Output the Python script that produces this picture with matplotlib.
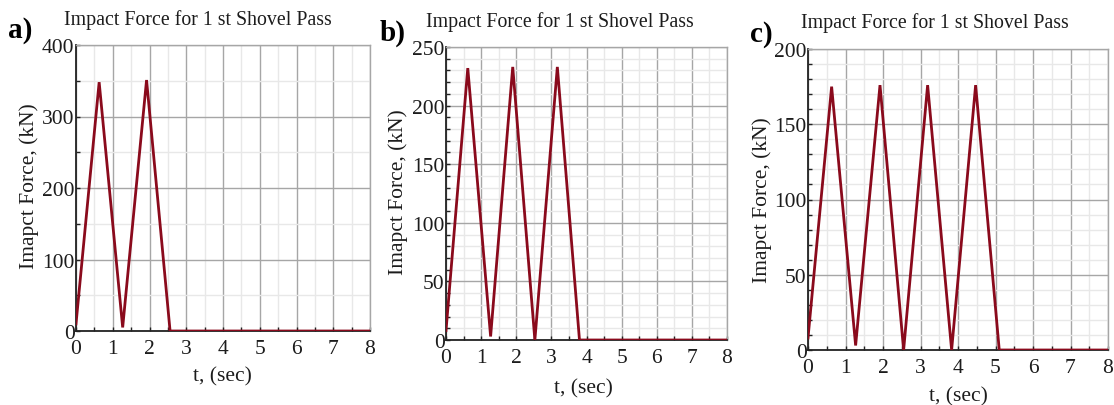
"""Impact force for 1st shovel pass - three panels (a, b, c)."""

import matplotlib
matplotlib.use("Agg")
import matplotlib.pyplot as plt
from matplotlib.ticker import MultipleLocator

# panel a: two passes
t_a = [0.0, 0.63, 1.27, 1.92, 2.56, 8.0]
f_a = [10, 348, 5, 351, 0, 0]

# panel b: three passes
t_b = [0.0, 0.62, 1.27, 1.90, 2.53, 3.17, 3.80, 8.0]
f_b = [8, 232, 3, 233, 0, 233, 0, 0]

# panel c: four passes
t_c = [0.0, 0.63, 1.27, 1.92, 2.55, 3.19, 3.83, 4.47, 5.10, 8.0]
f_c = [8, 175, 3, 176, 0, 176, 0, 176, 0, 0]

y_max = [400, 250, 200]
y_major = [100, 50, 50]
y_minor = [50, 10, 10]
tags = ["a)", "b)", "c)"]

TITLE = "Impact Force for 1 st Shovel Pass"
YLABEL = "Imapct Force, (kN)"
XLABEL = "t, (sec)"

W, H = 1114, 406
LINE = "#8a0a1c"
TXT = "#1c1c1c"

plt.rcParams["font.family"] = ["Liberation Serif", "DejaVu Serif"]

fig = plt.figure(figsize=(W / 100, H / 100), dpi=100)

# pixel boxes: left, top, right, bottom of each plot area
boxes = [(76, 46, 370, 332), (446, 48, 727, 341), (808, 50, 1108, 351)]
title_xy = [(198, 20), (560, 22), (935, 23)]
xlabel_xy = [(222, 377), (583, 389), (958, 397)]
ylabel_xy = [(29, 186), (398, 192), (762, 200)]
tag_xy = [(8, 30), (380, 33), (750, 35)]

series = [(t_a, f_a), (t_b, f_b), (t_c, f_c)]


def px(x, y):
    return x / W, 1 - y / H


for i, (t, f) in enumerate(series):
    l, top, r, b = boxes[i]
    ax = fig.add_axes([l / W, 1 - b / H, (r - l) / W, (b - top) / H])
    ax.plot(t, f, color=LINE, linewidth=2.0, zorder=3, solid_joinstyle="miter")

    ax.set_xlim(0, 8)
    ax.set_ylim(0, y_max[i])
    ax.xaxis.set_major_locator(MultipleLocator(1))
    ax.xaxis.set_minor_locator(MultipleLocator(0.5))
    ax.yaxis.set_major_locator(MultipleLocator(y_major[i]))
    ax.yaxis.set_minor_locator(MultipleLocator(y_minor[i]))

    ax.grid(True, which="major", color="#a6a6a6", linewidth=1.0, zorder=1)
    ax.grid(True, which="minor", color="#e8e8e8", linewidth=1.0, zorder=0)
    ax.set_axisbelow(True)

    for side in ("top", "right"):
        ax.spines[side].set_color("#a6a6a6")
        ax.spines[side].set_linewidth(1.0)
    for side in ("left", "bottom"):
        ax.spines[side].set_color("#222222")
        ax.spines[side].set_linewidth(1.3)

    ax.tick_params(which="both", direction="in", length=3, width=1.0,
                   color="#222222", top=False, right=False)
    ax.tick_params(axis="y", which="major", labelsize=15.5, labelcolor=TXT, pad=1)
    ax.tick_params(axis="x", which="major", labelsize=15.5, labelcolor=TXT, pad=5.5)

    fig.text(*px(*title_xy[i]), TITLE, ha="center", va="center",
             fontsize=14.3, color=TXT)
    fig.text(*px(*xlabel_xy[i]), XLABEL, ha="center", va="center",
             fontsize=15.5, color=TXT)
    fig.text(*px(*ylabel_xy[i]), YLABEL, ha="center", va="center",
             rotation=90, fontsize=15.5, color=TXT)
    fig.text(*px(*tag_xy[i]), tags[i], ha="left", va="center",
             fontsize=21, fontweight="bold", color="black")

fig.savefig("out.png", dpi=100)
